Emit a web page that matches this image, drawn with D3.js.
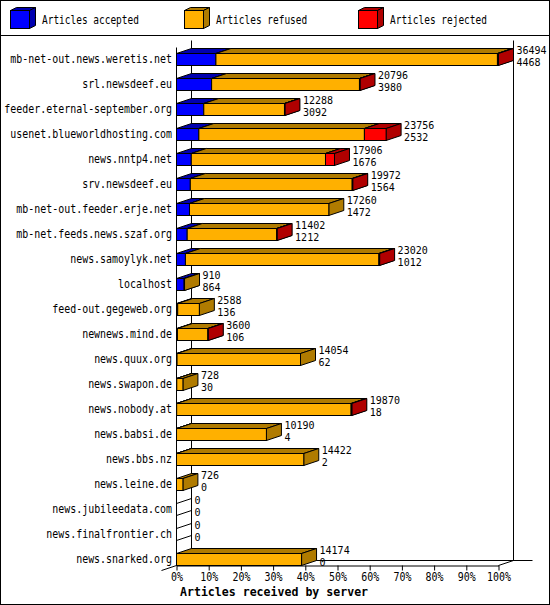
<!DOCTYPE html>
<html>
<head>
<meta charset="utf-8">
<script src="https://cdn.jsdelivr.net/npm/d3@7"></script>
<style>
  body { margin: 0; background: #fff; }
</style>
</head>
<body>
<script>
// servers, top to bottom
var servers = [
  "mb-net-out.news.weretis.net", "srl.newsdeef.eu", "feeder.eternal-september.org",
  "usenet.blueworldhosting.com", "news.nntp4.net", "srv.newsdeef.eu",
  "mb-net-out.feeder.erje.net", "mb-net.feeds.news.szaf.org", "news.samoylyk.net",
  "localhost", "feed-out.gegeweb.org", "newnews.mind.de", "news.quux.org",
  "news.swapon.de", "news.nobody.at", "news.babsi.de", "news.bbs.nz",
  "news.leine.de", "news.jubileedata.com", "news.finalfrontier.ch", "news.snarked.org"
];
// articles offered (top label) and accepted (bottom label)
var offered  = [36494, 20796, 12288, 23756, 17906, 19972, 17260, 11402, 23020, 910, 2588, 3600, 14054, 728, 19870, 10190, 14422, 726, 0, 0, 14174];
var accepted = [4468, 3980, 3092, 2532, 1676, 1564, 1472, 1212, 1012, 864, 136, 106, 62, 30, 18, 4, 2, 0, 0, 0, 0];
// refused / rejected
var refused  = [31906, 16756, 9146, 18764, 15210, 18348, 15788, 10140, 21928, 46, 2452, 3454, 13992, 698, 19772, 10186, 14420, 726, 0, 0, 14174];
var rejected = [120, 60, 50, 2460, 1020, 60, 0, 50, 80, 0, 0, 40, 0, 0, 80, 0, 0, 0, 0, 0, 0];

var seriesNames = ["Articles accepted", "Articles refused", "Articles rejected"];
var pctTicks = [0, 0.1, 0.2, 0.3, 0.4, 0.5, 0.6, 0.7, 0.8, 0.9, 1];

var width = 550, height = 605;
var dx = 15, dy = 5, barH = 12;
var font = "DejaVu Sans Mono";
var squeeze = 0.83;   // the original font is narrow
var colors = ["#0000ff", "#ffb000", "#ff0000"];
var shades = ["#0000b0", "#b07b00", "#b00000"];

var svg = d3.select("body").append("svg")
  .attr("width", width)
  .attr("height", height)
  .style("display", "block");

svg.append("rect")
  .attr("x", 0.5).attr("y", 0.5)
  .attr("width", width - 1).attr("height", height - 1)
  .attr("fill", "#fff").attr("stroke", "#000");

svg.append("line")
  .attr("x1", 0).attr("x2", width)
  .attr("y1", 35.5).attr("y2", 35.5)
  .attr("stroke", "#000");

function label(g, x, y, txt, anchor, scale, size, weight) {
  g.append("text")
    .attr("transform", "translate(" + x + "," + y + ") scale(" + scale + ",1)")
    .attr("text-anchor", anchor)
    .attr("font-family", font)
    .attr("font-size", size || 12)
    .attr("font-weight", weight || "normal")
    .attr("fill", "#000")
    .text(txt);
}

function box(g, x0, x1, y, h, ddx, ddy, i) {
  var pts = function (a) { return a.map(function (p) { return p.join(","); }).join(" "); };
  g.append("polygon")
    .attr("points", pts([[x0, y], [x1, y], [x1 + ddx, y - ddy], [x0 + ddx, y - ddy]]))
    .attr("fill", shades[i]).attr("stroke", "#000");
  g.append("polygon")
    .attr("points", pts([[x1, y], [x1 + ddx, y - ddy], [x1 + ddx, y + h - ddy], [x1, y + h]]))
    .attr("fill", shades[i]).attr("stroke", "#000");
  g.append("rect")
    .attr("x", x0).attr("y", y)
    .attr("width", x1 - x0).attr("height", h)
    .attr("fill", colors[i]).attr("stroke", "#000");
}

// legend
var legend = svg.append("g");
var legendX = [10, 184, 358];
seriesNames.forEach(function (name, i) {
  box(legend, legendX[i] + 0.5, legendX[i] + 19.5, 10.5, 18, 6, 3, i);
  label(legend, legendX[i] + 32, 24, name, "start", 0.79);
});

// scales
var pct = d3.scaleLinear().domain([0, 1]).range([176.5, 498.5]);
var x = d3.scaleLinear().domain([0, d3.max(offered)]).range([176.5, 498.5]);
var y = d3.scalePoint().domain(servers).range([53.5, 553.5]);

var x0 = pct(0), x1 = pct(1), floorY = y(servers[servers.length - 1]) + barH;
var topY = 40.5;

// frame
var frame = svg.append("g").attr("stroke", "#000").attr("fill", "none");
frame.append("line").attr("x1", x0 + dx).attr("x2", x0 + dx).attr("y1", topY).attr("y2", floorY - dy);
frame.append("line").attr("x1", x1 + dx).attr("x2", x1 + dx).attr("y1", topY).attr("y2", floorY - dy);
frame.append("line").attr("x1", x0 + dx).attr("x2", x1 + dx + 19).attr("y1", floorY - dy).attr("y2", floorY - dy);
frame.append("line").attr("x1", x0).attr("x2", x0).attr("y1", topY + 7).attr("y2", floorY);
frame.append("line").attr("x1", x0 - dx).attr("y1", floorY + dy).attr("x2", x0).attr("y2", floorY);
frame.append("line").attr("x1", x1).attr("y1", floorY).attr("x2", x1 + dx).attr("y2", floorY - dy);

// x axis
var axis = svg.append("g")
  .attr("transform", "translate(0," + floorY + ")")
  .call(d3.axisBottom(pct).tickValues(pctTicks).tickFormat(d3.format(".0%")).tickSize(5).tickSizeOuter(0));
axis.select(".domain").attr("stroke", "#000");
axis.selectAll(".tick line").attr("stroke", "#000");
axis.selectAll(".tick text")
  .attr("y", 16).attr("dy", null)
  .attr("transform", "scale(" + squeeze + ",1)")
  .attr("font-family", font).attr("font-size", 12).attr("fill", "#000");

label(svg, 180, 596, "Articles received by server", "start", 0.965, 12, "bold");

// bars
var bars = svg.append("g");
servers.forEach(function (s, r) {
  var top = y(s);
  var vals = [accepted[r], refused[r], rejected[r]];
  var start = 0;
  if (offered[r] === 0) {
    bars.append("line").attr("x1", x0).attr("y1", top).attr("x2", x0 + dx).attr("y2", top - dy).attr("stroke", "#000");
    bars.append("line").attr("x1", x0).attr("y1", top + barH).attr("x2", x0 + dx).attr("y2", top + barH - dy).attr("stroke", "#000");
  }
  vals.forEach(function (v, i) {
    if (v > 0) box(bars, x(start), x(start + v), top, barH, dx, dy, i);
    start += v;
  });
  var end = x(offered[r]);
  label(bars, 172, top + 9.5, s, "end", squeeze);
  label(bars, end + dx + 3, top + 0, offered[r], "start", 1, 10);
  label(bars, end + dx + 3, top + 12, accepted[r], "start", 1, 10);
});
</script>
</body>
</html>
